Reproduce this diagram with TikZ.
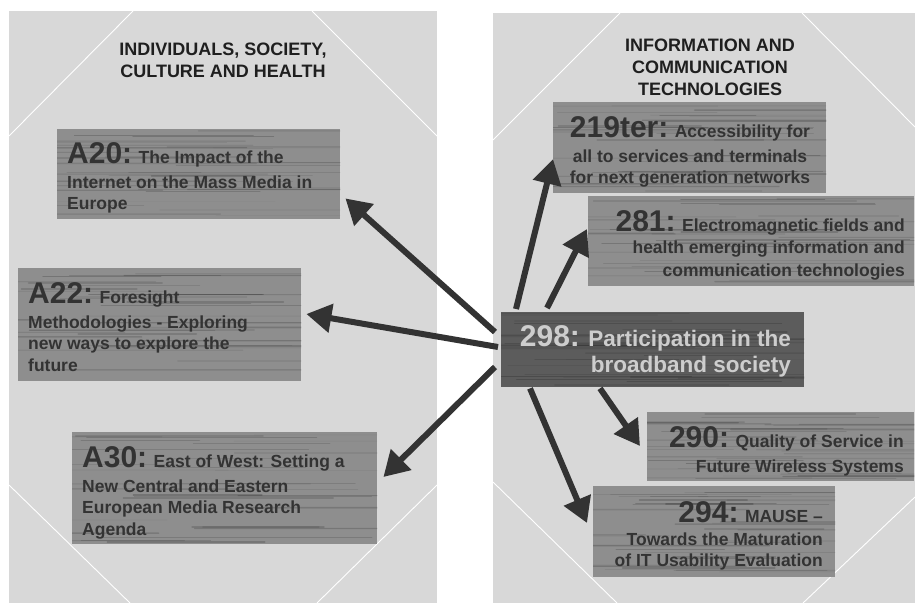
\documentclass[tikz,border=0pt]{standalone}
\usepackage{fontspec}
\setmainfont{Liberation Sans}
\usetikzlibrary{arrows.meta,calc}
\definecolor{panelbg}{HTML}{D8D8D8}
\definecolor{woodc}{HTML}{8E8E8E}
\definecolor{wooddark}{HTML}{5C5C5C}
\definecolor{inkc}{HTML}{333333}
\definecolor{lighttext}{HTML}{CDCDCD}
\newcommand\bignum[1]{{\fontsize{30}{30}\selectfont #1}}
\newcommand\grainbox[1]{%
  \foreach \k in {1,...,34}{%
    \pgfmathsetmacro\gy{0.02+0.96*rnd}%
    \pgfmathsetmacro\ga{-0.2+0.8*rnd}%
    \pgfmathsetmacro\gb{\ga+0.35+0.6*rnd}%
    \pgfmathsetmacro\go{0.05+0.14*rnd}%
    \pgfmathsetmacro\gw{0.4+1.3*rnd}%
    \begin{scope}
    \clip (#1.north west) rectangle (#1.south east);
    \draw[draw=black,opacity=\go,line width=\gw pt,line cap=round]
      ($($(#1.north west)!\gy!(#1.south west)$)!\ga!($(#1.north east)!\gy!(#1.south east)$)$)
      -- ($($(#1.north west)!\gy!(#1.south west)$)!\gb!($(#1.north east)!\gy!(#1.south east)$)$);
    \end{scope}
  }}
\begin{document}
\begin{tikzpicture}[x=1pt,y=-1pt,
  panel/.style={fill=panelbg},
  cutline/.style={draw=white,line width=0.9pt},
  wood/.style={fill=woodc,inner sep=0pt,anchor=north west},
  darkwood/.style={fill=wooddark,inner sep=0pt,anchor=north west},
  hdr/.style={font=\fontsize{18}{22}\selectfont\bfseries,text=black!88,align=center,inner sep=0pt,anchor=north},
  body/.style={font=\fontsize{17.5}{21.5}\selectfont\bfseries,text=inkc,inner sep=0pt},
  bodybig/.style={font=\fontsize{22.5}{26}\selectfont\bfseries,text=lighttext,inner sep=0pt},
  arr/.style={draw=inkc,line width=6pt,-{Triangle[length=25pt,width=28pt]}}
]
\pgfmathsetseed{11}
\useasboundingbox (0,0) rectangle (915,605);
\fill[white] (0,0) rectangle (915,605);
% panels
\fill[panel] (9,11) rectangle (437,603);
\fill[panel] (493,13) rectangle (915,603);
\draw[cutline] (9,136) -- (133,11);
\draw[cutline] (312,11) -- (437,136);
\draw[cutline] (9,485) -- (130,603);
\draw[cutline] (437,485) -- (317,603);
\draw[cutline] (493,140) -- (620,13);
\draw[cutline] (802,13) -- (915,127);
\draw[cutline] (493,482) -- (617,603);
\draw[cutline] (915,497) -- (803,603);
% titles
\node[hdr] (tleft) at (223,43.1) {INDIVIDUALS, SOCIETY,\\CULTURE AND HEALTH};
\node[hdr] (tright) at (710,38.8) {INFORMATION AND\\COMMUNICATION\\TECHNOLOGIES};
% boxes
\node[wood,minimum width=283pt,minimum height=90pt] (a20) at (57,129) {};
\node[wood,minimum width=283pt,minimum height=113pt] (a22) at (18,268) {};
\node[wood,minimum width=305pt,minimum height=112pt] (a30) at (72,432) {};
\node[wood,minimum width=273pt,minimum height=91pt] (b219) at (553,102) {};
\node[wood,minimum width=326pt,minimum height=90pt] (b281) at (588,196) {};
\node[darkwood,minimum width=303pt,minimum height=75pt] (b298) at (501,312) {};
\node[wood,minimum width=267pt,minimum height=69pt] (b290) at (647,412) {};
\node[wood,minimum width=242pt,minimum height=91pt] (b294) at (593,486) {};
\grainbox{a20}\grainbox{a22}\grainbox{a30}\grainbox{b219}
\grainbox{b281}\grainbox{b298}\grainbox{b290}\grainbox{b294}
% texts
\node[body,anchor=north west,align=left] (x20) at (67,142)
  {\bignum{A20:} The Impact of the\\[3.5pt]Internet on the Mass Media in\\Europe};
\node[body,anchor=north west,align=left] (x22) at (28,282)
  {\bignum{A22:} Foresight\\[3.5pt]Methodologies - Exploring\\new ways to explore the\\future};
\node[body,anchor=north west,align=left] (x30) at (82,446)
  {\bignum{A30:} East of West: Setting a\\[3.5pt]New Central and Eastern\\European Media Research\\Agenda};
\node[body,anchor=north,align=center] (x219) at (690,116)
  {\bignum{219ter:} Accessibility for\\[3.5pt]all to services and terminals\\for next generation networks};
\node[body,anchor=north east,align=right] (x281) at (905,210)
  {\bignum{281:} Electromagnetic fields and\\[1pt]health emerging information and\\[1pt]communication technologies};
\node[bodybig,anchor=north east,align=right] (x298) at (791,325)
  {\bignum{298:} Participation in the\\broadband society};
\node[body,anchor=north east,align=right] (x290) at (904,426)
  {\bignum{290:} Quality of Service in\\[3.5pt]Future Wireless Systems};
\node[body,anchor=north east,align=right] (x294) at (823,501)
  {\bignum{294:} MAUSE --\\[1.5pt]Towards the Maturation\\of IT Usability Evaluation};
% arrows
\draw[arr] ($(b298.north west)+(-6,20)$) -- ($(a20.south east)+(5,-21)$);
\draw[arr] ($(b298.north west)+(-3,35)$) -- ($(a22.north east)+(5,46)$);
\draw[arr] ($(b298.north west)+(-6,55)$) -- ($(a30.north east)+(6,45)$);
\draw[arr] ($(b298.north west)+(15,-3)$) -- ($(b219.north west)+(0,57)$);
\draw[arr] ($(b298.north west)+(46,-4)$) -- ($(b281.north west)+(-1,33)$);
\draw[arr] ($(b298.south west)+(99,1)$) -- ($(b290.north west)+(-7,34)$);
\draw[arr] ($(b298.south west)+(29,1)$) -- ($(b294.north west)+(-6,37)$);
\end{tikzpicture}
\end{document}
